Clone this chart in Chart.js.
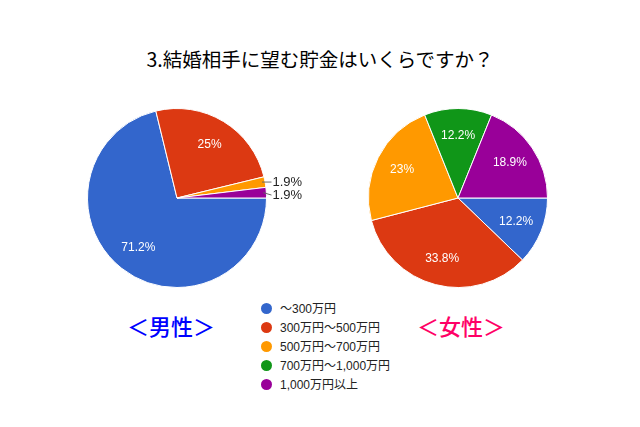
<!DOCTYPE html>
<html lang="ja">
<head>
<meta charset="utf-8">
<script src="https://cdn.jsdelivr.net/npm/chart.js@4/dist/chart.umd.min.js"></script>
<style>
	body { margin: 0; width: 640px; height: 427px; background: #fff; position: relative; overflow: hidden;
		font-family: "Liberation Sans", "Noto Sans CJK JP", sans-serif; }
	#title { position: absolute; left: 0; width: 640px; top: 44px; text-align: center; font-size: 19.5px; color: #000;
		font-family: "Noto Sans CJK JP", sans-serif; }
	.wrap { position: absolute; }
	#male { left: 77px; top: 98px; width: 240px; height: 200px; }
	#female { left: 358px; top: 98px; width: 200px; height: 200px; }
	#legend { position: absolute; left: 261px; top: 300px; font-size: 12px; color: #222; }
	#legend div { height: 19px; line-height: 19px; white-space: nowrap; }
	#legend span.dot { display: inline-block; width: 11px; height: 11px; border-radius: 50%; vertical-align: -1px; margin-right: 8px; }
	.sex { position: absolute; top: 309px; font-size: 22px; font-family: "Noto Sans CJK JP", sans-serif; font-weight: 500; }
</style>
</head>
<body>
<div id="title">3.結婚相手に望む貯金はいくらですか？</div>
<div class="wrap" id="male"><canvas id="maleChart"></canvas></div>
<div class="wrap" id="female"><canvas id="femaleChart"></canvas></div>
<div id="legend"></div>
<div class="sex" style="left:127px; color:#0000ff;">＜男性＞</div>
<div class="sex" style="left:417px; color:#ff0066;">＜女性＞</div>
<script>
(() => {
	"use strict";

	const categories = ["～300万円", "300万円～500万円", "500万円～700万円", "700万円～1,000万円", "1,000万円以上"];
	const maleValues = [71.2, 25, 1.9, 0, 1.9];
	const femaleValues = [12.2, 33.8, 23, 12.2, 18.9];
	const colors = ["#3366cc", "#dc3912", "#ff9900", "#109618", "#990099"];

	// HTML legend
	const legend = document.getElementById("legend");
	categories.forEach((c, i) => {
		const row = document.createElement("div");
		row.innerHTML = '<span class="dot" style="background:' + colors[i] + '"></span>' + c;
		legend.appendChild(row);
	});

	// slice labels, Google style: inside for big slices, outside with a leader for small ones
	const sliceLabels = {
		id: "sliceLabels",
		afterDatasetsDraw(chart) {
			const ctx = chart.ctx;
			const values = chart.data.datasets[0].data;
			const arcs = chart.getDatasetMeta(0).data;
			let lastY = -Infinity;
			ctx.save();
			arcs.forEach((arc, i) => {
				const v = values[i];
				if (!v) return;
				const mid = (arc.startAngle + arc.endAngle) / 2;
				const r = arc.outerRadius;
				const txt = v + "%";
				if (v >= 5) {
					ctx.font = "12px 'Liberation Sans', Arial, sans-serif";
					ctx.fillStyle = "#fff";
					ctx.textAlign = "center";
					ctx.textBaseline = "middle";
					ctx.fillText(txt, arc.x + Math.cos(mid) * r * 0.7, arc.y + Math.sin(mid) * r * 0.7);
				} else {
					let y = arc.y + Math.sin(mid) * r;
					if (y < lastY + 13) y = lastY + 13;
					lastY = y;
					const ex = arc.x + Math.cos(mid) * r;
					const ey = arc.y + Math.sin(mid) * r;
					ctx.strokeStyle = "#666";
					ctx.lineWidth = 1;
					ctx.beginPath();
					ctx.moveTo(ex - 3, ey);
					ctx.lineTo(arc.x + r + 5, y);
					ctx.stroke();
					ctx.font = "13px 'Liberation Sans', Arial, sans-serif";
					ctx.fillStyle = "#222";
					ctx.textAlign = "left";
					ctx.textBaseline = "middle";
					ctx.fillText(txt, arc.x + r + 6, y);
				}
			});
			ctx.restore();
		},
	};

	function makePie(id, values, padding) {
		return new Chart(document.getElementById(id), {
			type: "pie",
			data: {
				labels: categories,
				datasets: [{
					data: values,
					backgroundColor: colors,
					borderColor: "#fff",
					borderWidth: 1,
				}],
			},
			options: {
				responsive: true,
				maintainAspectRatio: false,
				animation: false,
				rotation: 90,
				layout: { padding: padding },
				plugins: {
					legend: { display: false },
					tooltip: { enabled: false },
				},
			},
			plugins: [sliceLabels],
		});
	}

	makePie("maleChart", maleValues, { left: 10, right: 50, top: 10, bottom: 10 });
	makePie("femaleChart", femaleValues, 10);
})();
</script>
</body>
</html>
